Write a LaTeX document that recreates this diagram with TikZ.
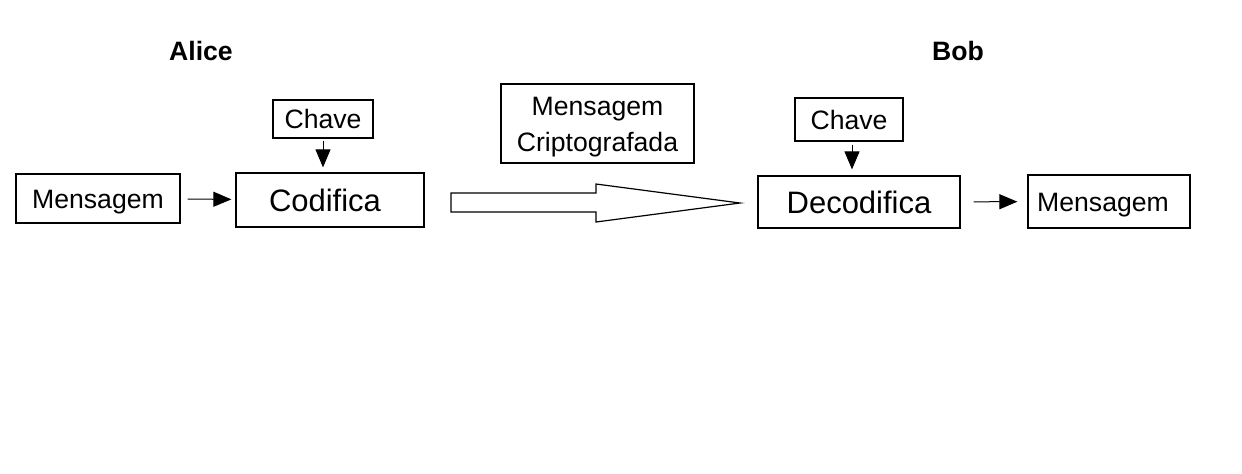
\documentclass[tikz,border=0pt]{standalone}
\usepackage{fontspec}
\setmainfont{Liberation Sans}
\usetikzlibrary{arrows.meta}

\begin{document}
\begin{tikzpicture}[x=0.5pt,y=-0.5pt]

    \useasboundingbox (0,0) rectangle (1242,473);

    % names of the two parties %
    \begin{scope}[every node/.style={font=\bfseries\fontsize{13.3}{16}\selectfont}]
        \node (alice) at (201,51) {Alice};
        \node (bob) at (958,51) {Bob};
    \end{scope}

    \begin{scope}[every node/.style={draw,rectangle,inner sep=0pt,line width=0.6pt,text height=9.5pt,text depth=0pt,font=\fontsize{13.3}{18}\selectfont}]
        \node[minimum width=82pt,minimum height=24.5pt] (msgA) at (98,198.5) {Mensagem};
        \node[minimum width=50pt,minimum height=19pt] (keyA) at (323,119) {Chave};
        \node[minimum width=94pt,minimum height=27pt,text height=11.2pt,font=\fontsize{15.5}{18}\selectfont] (cod) at (330,200) {Codifica\kern5pt};
        \node[minimum width=96.5pt,minimum height=39.5pt,align=center,text height=,text depth=] (crypt) at (597.5,123.5) {\rule{0pt}{13pt}Mensagem\\Criptografada};
        \node[minimum width=54pt,minimum height=21.5pt] (keyB) at (849,119.5) {Chave};
        \node[minimum width=101pt,minimum height=26pt,text height=11.2pt,font=\fontsize{15.5}{18}\selectfont] (dec) at (859,202) {Decodifica};
        \node[minimum width=81pt,minimum height=26.5pt] (msgB) at (1109,201.5) {Mensagem\kern6pt};
    \end{scope}

    \begin{scope}[every path/.style={line width=0.5pt,-{Triangle[length=9pt,width=7.5pt]}}]
        \draw[shorten <=3.5pt,shorten >=2pt] (msgA) -- (cod); % Alice codifica
        \draw[shorten <=1pt,shorten >=2.5pt] (keyA.south) -- (keyA.south |- cod.north); % chave de Alice
        \draw[shorten <=1.5pt,shorten >=3pt] ([xshift=1.5pt]keyB.south) -- ([xshift=1.5pt]keyB.south |- dec.north); % chave de Bob
        \draw[shorten <=6.5pt,shorten >=5pt] (dec) -- (msgB); % Bob decodifica
    \end{scope}

    % envio da mensagem criptografada %
    \draw[line width=0.6pt] (451,193) -- (596,193) -- (596,184) -- (740,203)
        -- (596,222) -- (596,212) -- (451,212) -- cycle;

\end{tikzpicture}
\end{document}
